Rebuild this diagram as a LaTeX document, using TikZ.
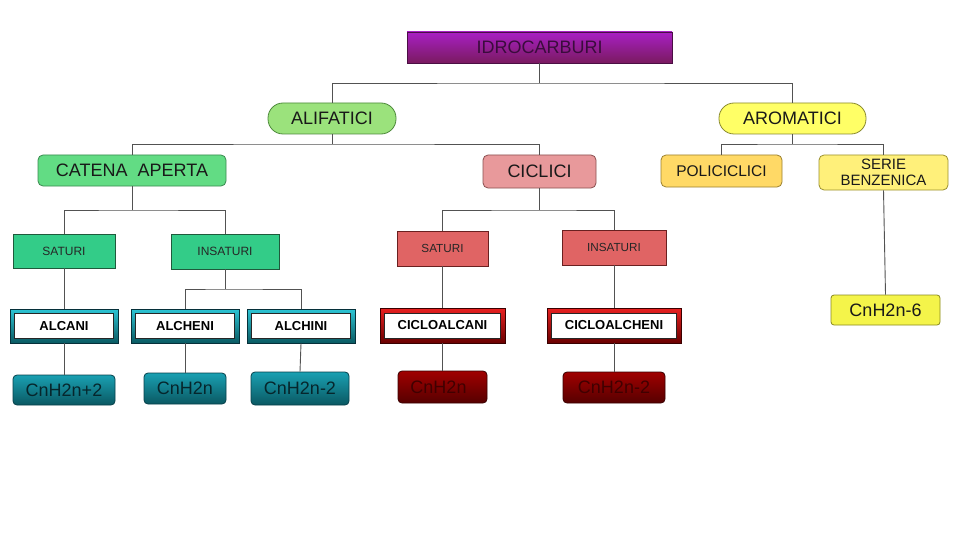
\documentclass[tikz,border=0pt]{standalone}
\usepackage{fontspec}
\setmainfont{Liberation Sans}
\begin{document}
\begin{tikzpicture}[x=1pt,y=-1pt,
  every node/.style={inner sep=0pt, align=center},
  conn/.style={draw=black!68, line width=0.9pt},
  box/.style={draw, line width=0.8pt, minimum width=#1},
  pill/.style={box=#1, rounded corners=15pt, minimum height=31pt, font=\fontsize{18}{20}\selectfont},
  rbox/.style={box=#1, rounded corners=5pt, font=\fontsize{18}{20}\selectfont},
  gbox/.style={box=#1, fill=gsat, draw=gsatd, minimum height=35pt, font=\fontsize{12}{14}\selectfont, text=black!85},
  redbox/.style={box=#1, fill=rsat, draw=rsatd, minimum height=35pt, font=\fontsize{11.7}{14}\selectfont, text=black!85},
  tframe/.style={box=#1, top color=tframeT, bottom color=tframeB, draw=tframeD, minimum height=34pt},
  rframe/.style={box=#1, top color=rframeT, bottom color=rframeB, draw=rframeD, minimum height=35pt},
  inner/.style={draw=black!85, line width=0.6pt, fill=white, minimum width=#1, minimum height=25pt, font=\bfseries\fontsize{13}{15}\selectfont},
  tform/.style={box=#1, rounded corners=4pt, top color=tformT, bottom color=tformB, draw=tformD, font=\fontsize{18}{20}\selectfont, text=tformX},
  rform/.style={box=#1, rounded corners=4pt, top color=rformT, bottom color=rformB, draw=rformD, font=\fontsize{18}{20}\selectfont, text=rformX}
]
\definecolor{idroT}{HTML}{A820C4}
\definecolor{idroB}{HTML}{7A1A60}
\definecolor{idroD}{HTML}{4A0E44}
\definecolor{idroX}{HTML}{3A0C3C}
\definecolor{alif}{HTML}{9BE27C}
\definecolor{alifD}{HTML}{4E8A3C}
\definecolor{arom}{HTML}{FFFF66}
\definecolor{aromD}{HTML}{8A8A30}
\definecolor{caten}{HTML}{62DC84}
\definecolor{catenD}{HTML}{3A8A50}
\definecolor{cicl}{HTML}{E8999B}
\definecolor{ciclD}{HTML}{8A5050}
\definecolor{polic}{HTML}{FFD966}
\definecolor{policD}{HTML}{9A8030}
\definecolor{serie}{HTML}{FFF07A}
\definecolor{serieD}{HTML}{9A9030}
\definecolor{cnsei}{HTML}{F4F44A}
\definecolor{cnseiD}{HTML}{8A8A20}
\definecolor{gsat}{HTML}{33CC88}
\definecolor{gsatd}{HTML}{1F5A3C}
\definecolor{rsat}{HTML}{E06464}
\definecolor{rsatd}{HTML}{6A2020}
\definecolor{tframeT}{HTML}{2CC4D4}
\definecolor{tframeB}{HTML}{0A5A62}
\definecolor{tframeD}{HTML}{06303A}
\definecolor{rframeT}{HTML}{E82020}
\definecolor{rframeB}{HTML}{6A0000}
\definecolor{rframeD}{HTML}{3A0000}
\definecolor{tformT}{HTML}{1AA0B2}
\definecolor{tformB}{HTML}{0A5862}
\definecolor{tformD}{HTML}{06404A}
\definecolor{tformX}{HTML}{06262C}
\definecolor{rformT}{HTML}{A00000}
\definecolor{rformB}{HTML}{560000}
\definecolor{rformD}{HTML}{3A0000}
\definecolor{rformX}{HTML}{400000}

\useasboundingbox[fill=white] (0,0) rectangle (960,540);

% level 0
\node[box=265pt, minimum height=31pt, top color=idroT, bottom color=idroB, draw=idroD, text=idroX, font=\fontsize{18}{20}\selectfont] (idro) at (539.5,47.5) {IDROCARBURI};
% level 1
\node[pill=128pt, fill=alif, draw=alifD, text=black!90] (alif) at (332,118.5) {ALIFATICI};
\node[pill=147pt, fill=arom, draw=aromD, text=black!90] (arom) at (792.5,118.5) {AROMATICI};
% level 2
\node[rbox=188pt, minimum height=31pt, fill=caten, draw=catenD, text=black!90] (caten) at (132,170.5) {CATENA\ \ APERTA};
\node[rbox=113pt, minimum height=33pt, fill=cicl, draw=ciclD, text=black!90] (cicl) at (539.5,171.5) {CICLICI};
\node[rbox=121pt, minimum height=32pt, fill=polic, draw=policD, text=black!90, font=\fontsize{15.5}{17}\selectfont] (polic) at (721.5,171) {POLICICLICI};
\node[rbox=129pt, minimum height=35pt, fill=serie, draw=serieD, text=black!90, font=\fontsize{15}{15.5}\selectfont] (serie) at (883.5,172.5) {SERIE\\BENZENICA};
\node[rbox=109pt, minimum height=30pt, rounded corners=3pt, fill=cnsei, draw=cnseiD, text=black!90] (cnsei) at (885.5,310) {CnH2n-6};
% level 3
\node[gbox=102pt, minimum height=34pt] (sat1) at (64,251) {SATURI};
\node[gbox=108pt] (ins1) at (225,251.5) {INSATURI};
\node[redbox=91pt] (sat2) at (442.5,248.5) {SATURI};
\node[redbox=104pt] (ins2) at (614,247.5) {INSATURI};
% level 4 frames
\node[tframe=108pt] (alcani) at (64,326) {};
\node[inner=99pt] (alcaniT) at (alcani) {ALCANI};
\node[tframe=108pt] (alcheni) at (185,326) {};
\node[inner=99pt] (alchenT) at (alcheni) {ALCHENI};
\node[tframe=108pt] (alchini) at (301,326) {};
\node[inner=99pt] (alchinT) at (alchini) {ALCHINI};
\node[rframe=125pt] (cicloa) at (442.5,325.5) {};
\node[inner=116pt] (cicloaT) at (cicloa) {CICLOALCANI};
\node[rframe=134pt] (cicloe) at (614,325.5) {};
\node[inner=125pt] (cicloeT) at (cicloe) {CICLOALCHENI};
% level 5 formulas
\node[tform=102pt, minimum height=30pt] (f1) at (64,390) {CnH2n+2};
\node[tform=82pt, minimum height=31pt] (f2) at (185,388.5) {CnH2n};
\node[tform=98pt, minimum height=33pt] (f3) at (300,388.5) {CnH2n-2};
\node[rform=89pt, minimum height=32pt] (f4) at (442.5,387) {CnH2n\hspace{8pt}};
\node[rform=102pt, minimum height=31pt] (f5) at (614,387.5) {CnH2n-2};

% junctions
\coordinate (j1) at (539.5,83);
\coordinate (j2) at (332,144);
\coordinate (j3) at (792.5,144);
\coordinate (j4) at (132,210);
\coordinate (j5) at (539.5,210);
\coordinate (j6) at (225,289);

\draw[conn] (idro.south) -- (j1);
\draw[conn] (alif.north) |- (j1) -| (arom.north);
\draw[conn] (alif.south) -- (j2);
\draw[conn] (caten.north) |- (j2) -| (cicl.north);
\draw[conn] (arom.south) -- (j3);
\draw[conn] (polic.north) |- (j3) -| (serie.north);
\draw[conn] (serie.south) -- (cnsei.north);
\draw[conn] (caten.south) -- (j4);
\draw[conn] (sat1.north) |- (j4) -| (ins1.north);
\draw[conn] (cicl.south) -- (j5);
\draw[conn] (sat2.north) |- (j5) -| (ins2.north);
\draw[conn] (ins1.south) -- (j6);
\draw[conn] (alcheni.north) |- (j6) -| (alchini.north);
\draw[conn] (sat1.south) -- (alcani.north);
\draw[conn] (sat2.south) -- (cicloa.north);
\draw[conn] (ins2.south) -- (cicloe.north);
\draw[conn] (alcani.south) -- (f1.north);
\draw[conn] (alcheni.south) -- (f2.north);
\draw[conn] (alchini.south) -- (f3.north);
\draw[conn] (cicloa.south) -- (f4.north);
\draw[conn] (cicloe.south) -- (f5.north);
\end{tikzpicture}
\end{document}
